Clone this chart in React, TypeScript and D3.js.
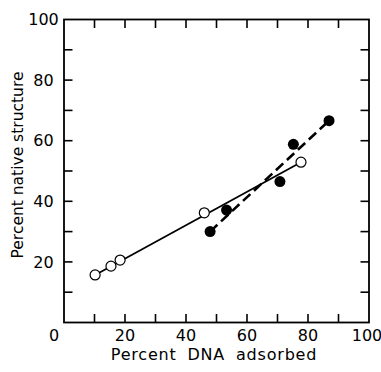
import React from "react";
import * as d3 from "d3";

// Native-structure measurements: open circles (first series), filled circles (second series)
const openX = [10.2, 15.4, 18.4, 46.0, 77.7];
const openY = [15.7, 18.6, 20.6, 36.2, 52.9];
const filledX = [47.9, 53.3, 70.8, 75.2, 86.9];
const filledY = [30.0, 37.1, 46.5, 58.8, 66.6];

// Fitted lines (endpoints)
const openFitX = [10.2, 77.7];
const openFitY = [15.7, 52.9];
const filledFitX = [47.9, 86.9];
const filledFitY = [30.0, 66.6];

const xTickLabels = [0, 20, 40, 60, 80, 100];
const yTickLabels = [20, 40, 60, 80, 100];
const minorTicks = [10, 20, 30, 40, 50, 60, 70, 80, 90];

const W = 381;
const H = 372;
const left = 64;
const right = 369;
const top = 19.5;
const bottom = 322.5;

export default function App() {
  const x = d3.scaleLinear().domain([0, 100]).range([left, right]);
  const y = d3.scaleLinear().domain([0, 100]).range([bottom, top]);
  const line = d3
    .line<[number, number]>()
    .x((d) => x(d[0]))
    .y((d) => y(d[1]));
  const openFit = line(openFitX.map((v, i) => [v, openFitY[i]] as [number, number]));
  const filledFit = line(filledFitX.map((v, i) => [v, filledFitY[i]] as [number, number]));
  const tickLen = 8.5;
  const font = "'DejaVu Sans', Verdana, sans-serif";

  return (
    <svg
      width={W}
      height={H}
      style={{ position: "absolute", left: 0, top: 0, background: "#fff" }}
      fontFamily={font}
    >
      <rect x={0} y={0} width={W} height={H} fill="#fff" />
      {/* frame */}
      <rect
        x={left}
        y={top}
        width={right - left}
        height={bottom - top}
        fill="none"
        stroke="#000"
        strokeWidth={1.8}
      />
      {/* inward ticks on all four sides */}
      {minorTicks.map((t) => (
        <g key={t} stroke="#000" strokeWidth={1.6}>
          <line x1={x(t)} x2={x(t)} y1={bottom} y2={bottom - tickLen} />
          <line x1={x(t)} x2={x(t)} y1={top} y2={top + tickLen} />
          <line x1={left} x2={left + tickLen} y1={y(t)} y2={y(t)} />
          <line x1={right} x2={right - tickLen} y1={y(t)} y2={y(t)} />
        </g>
      ))}
      {/* x tick labels */}
      {xTickLabels.map((t) => (
        <text
          key={t}
          x={t === 0 ? x(t) - 10 : t === 100 ? x(t) - 2 : x(t)}
          y={341}
          textAnchor="middle"
          fontSize={16}
          fill="#000"
        >
          {t}
        </text>
      ))}
      {/* y tick labels */}
      {yTickLabels.map((t) => (
        <text
          key={t}
          x={43.5}
          y={y(t)}
          dy="0.36em"
          textAnchor="middle"
          fontSize={16}
          fill="#000"
        >
          {t}
        </text>
      ))}
      {/* axis titles */}
      <text
        x={214}
        y={360}
        textAnchor="middle"
        fontSize={16}
        letterSpacing={0.8}
        wordSpacing={5}
        fill="#000"
      >
        Percent DNA adsorbed
      </text>
      <text
        transform={`translate(22.5,165) rotate(-90)`}
        textAnchor="middle"
        fontSize={15.5}
        fill="#000"
      >
        Percent native structure
      </text>
      {/* fit lines */}
      <path d={openFit ?? ""} fill="none" stroke="#000" strokeWidth={1.8} />
      <path
        d={filledFit ?? ""}
        fill="none"
        stroke="#000"
        strokeWidth={2.6}
        strokeDasharray="10 5"
      />
      {/* points */}
      {openX.map((v, i) => (
        <circle
          key={`o${i}`}
          cx={x(v)}
          cy={y(openY[i])}
          r={5}
          fill="#fff"
          stroke="#000"
          strokeWidth={1.2}
        />
      ))}
      {filledX.map((v, i) => (
        <circle key={`f${i}`} cx={x(v)} cy={y(filledY[i])} r={5.5} fill="#000" />
      ))}
    </svg>
  );
}
